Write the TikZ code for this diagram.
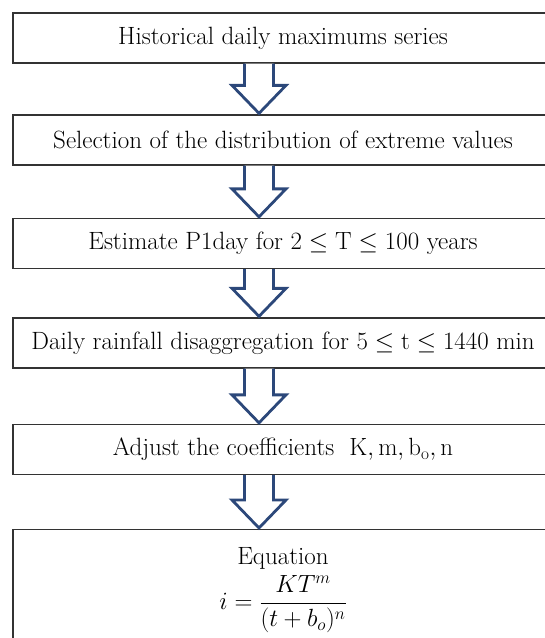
\documentclass[tikz,border=0pt]{standalone}
\usepackage{amsmath}
\usepackage{amssymb}
\usetikzlibrary{calc}
\definecolor{arrowblue}{RGB}{44,72,122}

\begin{document}
\begin{tikzpicture}[x=1pt,y=1pt,
		stepbox/.style={draw=black!80, line width=1.3pt, fill=white, minimum width=540pt, minimum height=50pt, inner sep=0pt, font=\fontsize{25}{29}\selectfont},
		blockarrow/.style={draw=arrowblue, line width=2.8pt, fill=white, line join=miter}]
			\useasboundingbox (0,0) rectangle (545,-638);
			\clip (0,0) rectangle (545,-638);
			\node[stepbox] (hist) at (283,-38) {Historical daily maximums series};
			\node[stepbox] (sel) at (283,-140) {Selection of the distribution of extreme values};
			\node[stepbox] (est) at (283,-243.5) {Estimate P1day for $2\leq\mathrm{T}\leq 100$ years};
			\node[stepbox] (dis) at (283,-343) {Daily rainfall disaggregation for $5\leq\mathrm{t}\leq 1440$ min};
			\node[stepbox] (adj) at (283,-449.5) {Adjust the coefficients\ \ $\mathrm{K, m, b_o, n}$};
			\node[stepbox, anchor=north, minimum height=0pt, inner ysep=18pt, align=center] (eqn) at (283,-529) {Equation\\[5pt] $i=\dfrac{KT^m}{(t+b_o)^n}$};
			\foreach \a/\b in {hist/sel, sel/est, est/dis, dis/adj, adj/eqn}
				\draw[blockarrow] let \p1=(\a.south), \p2=(\b.north) in (244.5,\y1) -- (244.5,\y2+29) -- (232,\y2+29) -- (259,\y2+1) -- (286,\y2+29) -- (273.5,\y2+29) -- (273.5,\y1);
		\end{tikzpicture}
\end{document}
